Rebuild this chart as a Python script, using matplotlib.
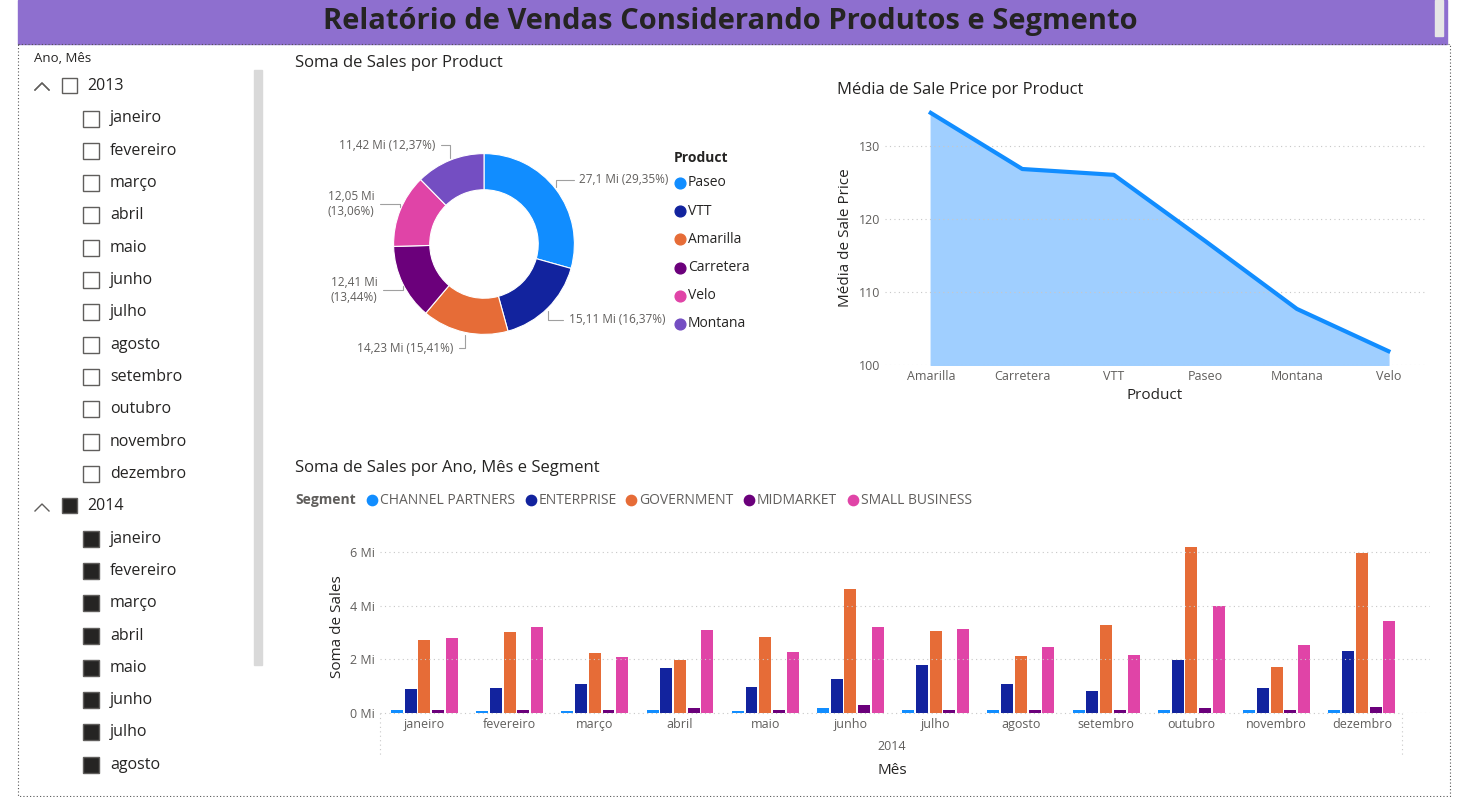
import numpy as np
import matplotlib
matplotlib.use('Agg')
import matplotlib.pyplot as plt
from matplotlib.patches import Rectangle

plt.rcParams['font.family'] = ['Open Sans', 'DejaVu Sans']

W, H = 1471, 797

# ---- dados ----
products = ['Paseo', 'VTT', 'Amarilla', 'Carretera', 'Velo', 'Montana']
prod_colors = ['#118DFF', '#12239E', '#E66C37', '#6B007B', '#E044A7', '#744EC2']
sales_mi = [27.1, 15.11, 14.23, 12.41, 12.05, 11.42]
sales_pct = [29.35, 16.37, 15.41, 13.44, 13.06, 12.37]

price_products = ['Amarilla', 'Carretera', 'VTT', 'Paseo', 'Montana', 'Velo']
avg_price = [134.6, 126.9, 126.1, 117.0, 107.7, 101.9]

months = ['janeiro', 'fevereiro', 'março', 'abril', 'maio', 'junho', 'julho',
          'agosto', 'setembro', 'outubro', 'novembro', 'dezembro']
segments = ['CHANNEL PARTNERS', 'ENTERPRISE', 'GOVERNMENT', 'MIDMARKET', 'SMALL BUSINESS']
seg_colors = ['#118DFF', '#12239E', '#E66C37', '#6B007B', '#E044A7']
channel = [0.12, 0.08, 0.07, 0.13, 0.07, 0.18, 0.10, 0.10, 0.10, 0.13, 0.10, 0.13]
enterprise = [0.90, 0.95, 1.08, 1.68, 0.97, 1.27, 1.79, 1.07, 0.82, 1.97, 0.93, 2.31]
government = [2.72, 3.02, 2.24, 1.98, 2.84, 4.63, 3.06, 2.13, 3.28, 6.19, 1.72, 5.97]
midmarket = [0.10, 0.10, 0.10, 0.17, 0.10, 0.30, 0.12, 0.13, 0.10, 0.20, 0.10, 0.22]
small_biz = [2.80, 3.20, 2.09, 3.10, 2.28, 3.20, 3.12, 2.46, 2.16, 3.99, 2.54, 3.43]

fig = plt.figure(figsize=(W / 100, H / 100), dpi=100)

def px_axes(x0, y0, x1, y1):
    return fig.add_axes([x0 / W, 1 - y1 / H, (x1 - x0) / W, (y1 - y0) / H])

def ftext(x, y, s, **kw):
    fig.text(x / W, 1 - y / H, s, **kw)

# moldura
bg = px_axes(0, 0, W, H)
bg.set_xlim(0, W); bg.set_ylim(H, 0); bg.axis('off')
bg.add_patch(Rectangle((18, 0), 1429, 44, color='#8E6FCF'))
bg.add_patch(Rectangle((1435, 0), 8, 36, color='#E6E6E6'))
bg.add_patch(Rectangle((18, 44), 1432, 752, fill=False, ls=(0, (1, 2)), lw=0.8, ec='#555555'))
ftext(730, 21, 'Relatório de Vendas Considerando Produtos e Segmento',
      ha='center', va='center', fontsize=21, fontweight='bold', color='#252423')

# ---- slicer ----
ftext(34, 59, 'Ano, Mês', fontsize=9.5, va='center', color='#252423')
bg.add_patch(Rectangle((254, 70), 8, 595, color='#D9D9D9'))
y = 86
for year, filled in [('2013', False), ('2014', True)]:
    bg.plot([35, 42, 49], [90, 83, 90], color='#605E5C', lw=1)
    bg.add_patch(Rectangle((62, y - 8), 15, 15, fill=filled, fc='#252423', ec='#605E5C', lw=1))
    ftext(87, y, year, fontsize=11.5, va='center', color='#252423')
    y += 32.5
    nm = months if not filled else months[:8]
    for m in nm:
        bg.add_patch(Rectangle((83, y - 8), 16, 16, fill=filled, fc='#252423', ec='#605E5C', lw=1))
        ftext(110, y, m, fontsize=11.5, va='center', color='#252423')
        y += 32.3
    y += 0
# chevron for 2014
bg.plot([35, 42, 49], [511, 504, 511], color='#605E5C', lw=1)
bg.lines[0].set_data([35, 42, 49], [90, 83, 90])

# ---- donut ----
ftext(295, 63, 'Soma de Sales por Product', fontsize=12, va='center', color='#252423')
ax1 = px_axes(371, 131, 597, 357)
wedges, _ = ax1.pie(sales_mi, colors=prod_colors, startangle=90, counterclock=False,
                    wedgeprops=dict(width=0.4, edgecolor='white', linewidth=0.8))
ax1.set_aspect('equal')
for w_, v, p in zip(wedges, sales_mi, sales_pct):
    ang = np.deg2rad((w_.theta1 + w_.theta2) / 2)
    x, yy = np.cos(ang), np.sin(ang)
    lab = f'{v:g} Mi ({p:.2f}%)'.replace('.', ',')
    if abs(yy) < 0.75 and abs(x) > 0.3 and v < 14:
        lab = lab.replace(' (', '\n(')
    ha = 'left' if x > 0 else 'right'
    ax1.annotate(lab, xy=(1.0 * x, 1.0 * yy), xytext=(1.22 * x + 0.08 * np.sign(x), 1.18 * yy),
                 ha=ha, va='center', fontsize=8.5, color='#605E5C',
                 arrowprops=dict(arrowstyle='-', color='#A0A0A0', lw=0.8,
                                 connectionstyle='angle,angleA=0,angleB=90'))
ftext(674, 158, 'Product', fontsize=10, fontweight='bold', va='center', color='#252423')
for i, (pn, c) in enumerate(zip(products, prod_colors)):
    yy = 183 + i * 28.2
    bg.scatter([680], [yy], s=60, color=c)
    ftext(688, yy, pn, fontsize=10, va='center', color='#252423')

# ---- area line ----
ftext(837, 90, 'Média de Sale Price por Product', fontsize=12, va='center', color='#252423')
ax2 = px_axes(885, 110, 1425, 365)
xs = np.arange(len(price_products))
ax2.fill_between(xs, avg_price, 100, color='#A0CFFF')
ax2.plot(xs, avg_price, color='#118DFF', lw=3)
ax2.set_xlim(-0.5, 5.4)
ax2.set_ylim(100, 135)
ax2.set_yticks([100, 110, 120, 130])
ax2.set_xticks(xs, price_products)
ax2.grid(axis='y', ls=(0, (1, 3)), color='#C8C8C8')
for s in ax2.spines.values():
    s.set_visible(False)
ax2.tick_params(length=0, labelsize=9, colors='#605E5C')
ax2.set_xlabel('Product', fontsize=11, color='#252423')
ax2.set_ylabel('Média de Sale Price', fontsize=11, color='#252423')

# ---- barras ----
ftext(295, 468, 'Soma de Sales por Ano, Mês e Segment', fontsize=12, va='center', color='#252423')
ftext(295, 500, 'Segment', fontsize=10, fontweight='bold', va='center', color='#605E5C')
lx = [372, 531, 631, 749, 853]
for xx, s, c in zip(lx, segments, seg_colors):
    bg.scatter([xx], [500], s=55, color=c)
    ftext(xx + 8, 500, s, fontsize=10, va='center', color='#605E5C')
ax3 = px_axes(380, 540, 1430, 713)
xm = np.arange(len(months))
bw = 0.14
series = [channel, enterprise, government, midmarket, small_biz]
for k, (vals, c) in enumerate(zip(series, seg_colors)):
    ax3.bar(xm + (k - 2) * bw * 1.15, vals, bw, color=c)
ax3.set_xlim(-0.52, 11.8)
ax3.set_ylim(0, 6.45)
ax3.set_yticks([0, 2, 4, 6], ['0 Mi', '2 Mi', '4 Mi', '6 Mi'])
ax3.set_xticks(xm, months)
ax3.grid(axis='y', ls=(0, (1, 3)), color='#C8C8C8')
for s in ax3.spines.values():
    s.set_visible(False)
ax3.tick_params(length=0, labelsize=9, colors='#605E5C')
ax3.set_ylabel('Soma de Sales', fontsize=11, color='#252423')
bg.plot([380, 1402], [713, 713], ls=(0, (1, 3)), color='#C8C8C8', lw=0.8)
bg.plot([380, 380], [713, 755], ls=(0, (1, 3)), color='#C8C8C8', lw=0.8)
bg.plot([1402, 1402], [713, 755], ls=(0, (1, 3)), color='#C8C8C8', lw=0.8)
ftext(892, 746, '2014', fontsize=9, ha='center', va='center', color='#605E5C')
ftext(892, 771, 'Mês', fontsize=11, ha='center', va='center', color='#252423')

fig.savefig('out.png', dpi=100)
